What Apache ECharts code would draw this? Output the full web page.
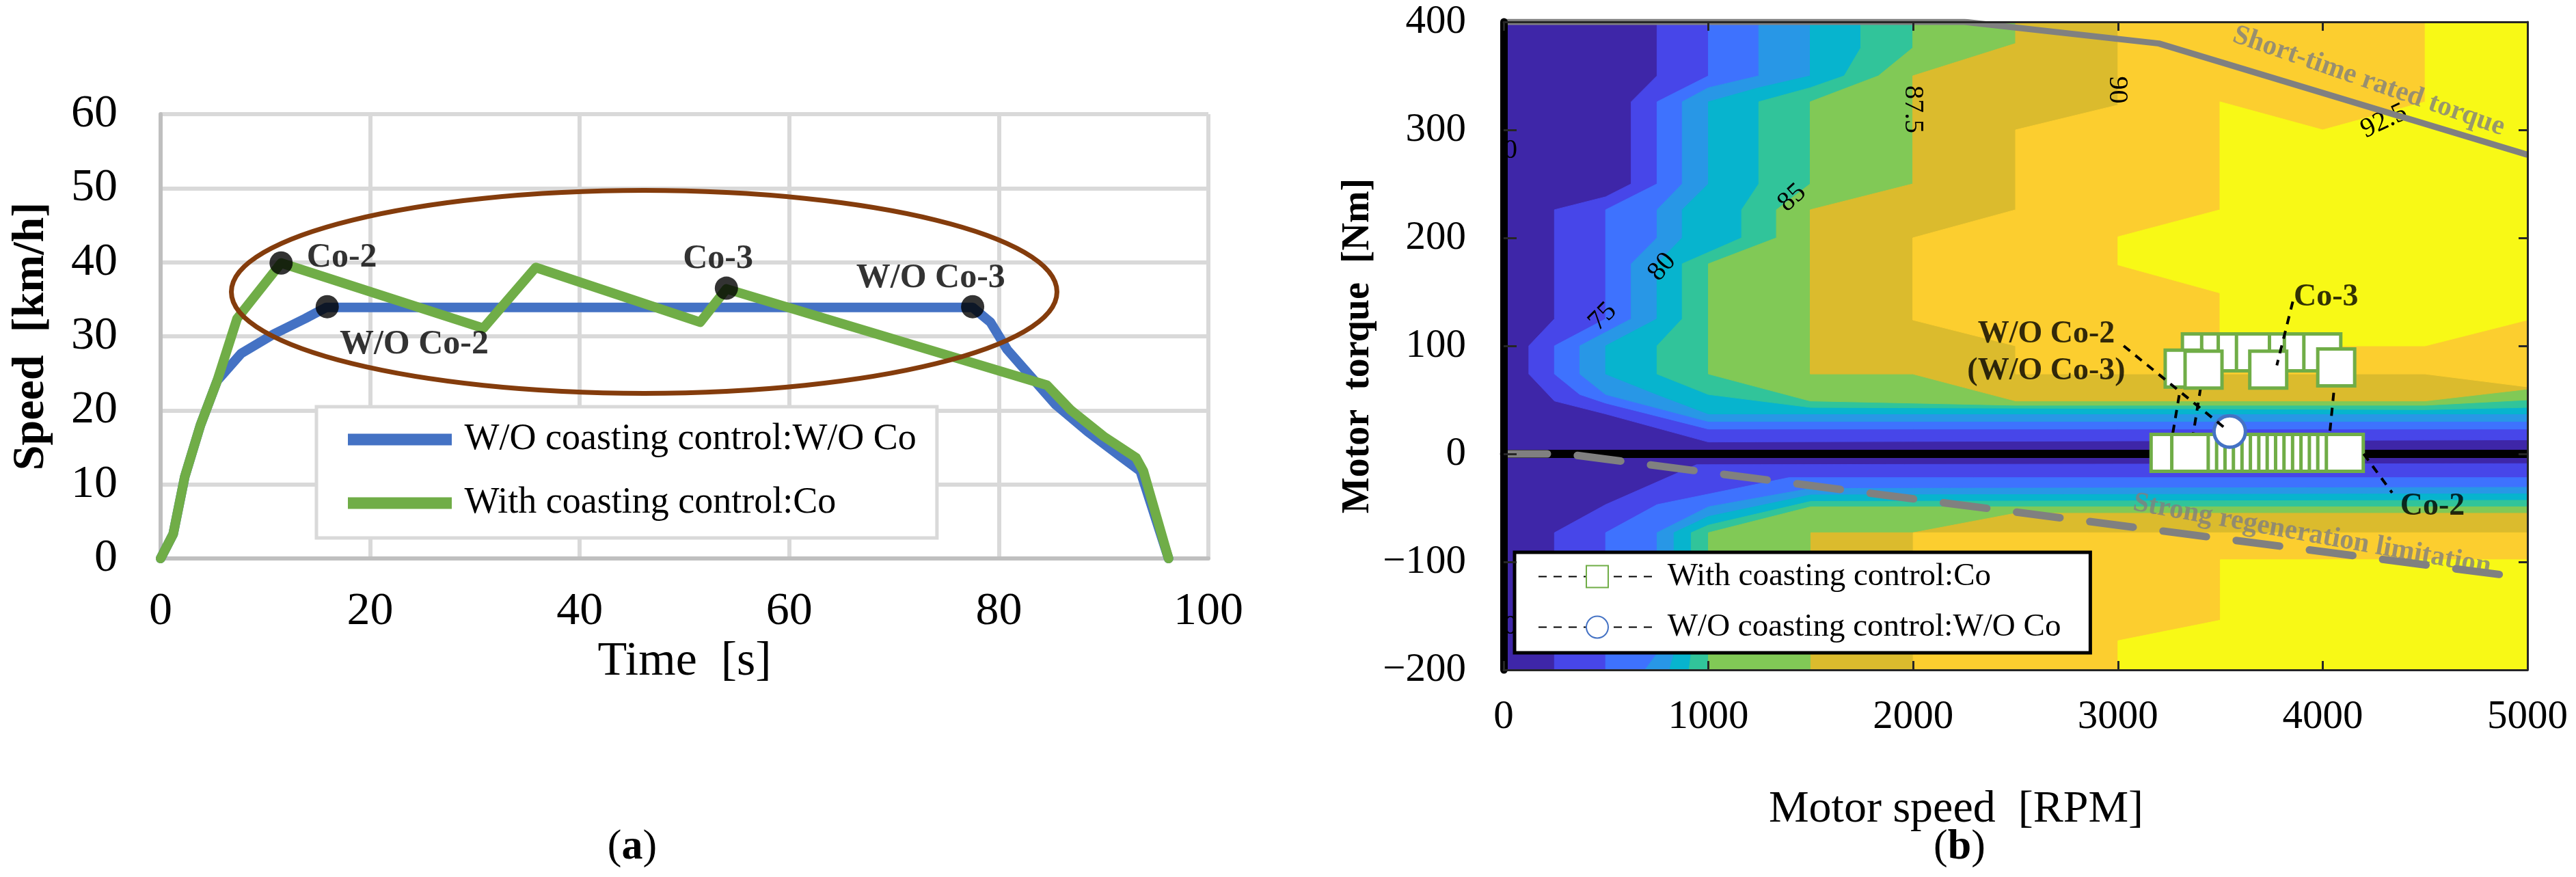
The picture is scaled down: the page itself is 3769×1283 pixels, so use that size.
<!DOCTYPE html>
<html>
<head>
<meta charset="utf-8">
<script src="https://cdn.jsdelivr.net/npm/echarts@6/dist/echarts.min.js"></script>
<style>html,body{margin:0;padding:0;background:#fff}#c{width:3769px;height:1283px}</style>
</head>
<body>
<div id="c"></div>
<script>
// ================= (a) Speed profile =================
const woCoTime  = [0, 1.2, 2.3, 3.8, 5.4, 7.7, 10.8, 13.8, 15.8, 77.5, 79.2, 80.8, 83.1, 85.4, 88.5, 91.5, 93.5, 96.2];
const woCoSpeed = [0, 3.3, 11, 18, 24, 27.7, 30.3, 32.4, 33.9, 33.9, 31.9, 28.2, 24.5, 20.8, 17.1, 13.9, 11.8, 0];
const coTime    = [0, 1.2, 2.3, 3.8, 5.4, 7.3, 11.5, 30.8, 35.8, 51.5, 54.0, 84.6, 86.9, 90.0, 93.1, 93.8, 96.2];
const coSpeed   = [0, 3.3, 11, 18, 24, 32.4, 39.9, 31.1, 39.3, 31.9, 36.4, 23.4, 20.0, 16.5, 13.6, 11.8, 0];
const pointNames      = ['Co-2', 'W/O Co-2', 'Co-3', 'W/O Co-3'];
const pointTime       = [11.5, 15.9, 54.0, 77.5];
const pointSpeed      = [39.9, 34.0, 36.5, 34.0];
const pointLabelTime  = [17.3, 24.2, 53.2, 73.5];
const pointLabelSpeed = [40.6, 28.9, 40.4, 37.8];
// highlight ellipse: centre time, centre speed, half-width (s), half-height (km/h)
const ellipseSpec = [46.15, 36.0, 39.4, 13.7];

// ================= (b) Efficiency map =================
const rpmRange = [0, 5000];
const nmRange  = [-200, 400];
const effLevels  = [72.5, 75, 77.5, 80, 82.5, 85, 87.5, 90, 92.5];
const bandColors = ['#3E26A8', '#4746E9', '#3E72FE', '#2897E6', '#07B4CE', '#31C49A', '#81C956', '#DBBB2D', '#FCCE2F', '#F8F916'];
// contour lines [rpm, Nm], positive torque half
const c725Pos = [[749,400],[749,350],[623,326],[623,250],[498,238],[248,226],[248,125],[123,100],[123,74],[248,49],[498,37],[1000,11],[5000,13]];
const c750Pos = [[1000,400],[1000,350],[749,326],[749,250],[498,226],[498,125],[248,100],[248,74],[372,55],[498,47],[1000,23],[5000,23]];
const c775Pos = [[1246,400],[1246,350],[1000,339],[872,326],[872,250],[749,226],[749,200],[623,176],[623,125],[372,100],[372,74],[498,55],[1000,30],[5000,30]];
const c800Pos = [[1497,400],[1497,350],[1246,339],[1000,326],[1000,250],[872,226],[872,200],[749,176],[749,125],[498,100],[498,74],[749,55],[1000,37],[5000,37]];
const c825Pos = [[1744,400],[1744,376],[1663,350],[1497,339],[1246,326],[1246,250],[1162,226],[1162,200],[872,176],[872,125],[749,100],[749,74],[1000,55],[1500,43],[4500,41],[5000,43]];
const c850Pos = [[1998,400],[1998,376],[1830,350],[1497,326],[1497,250],[1332,226],[1332,200],[1000,176],[1000,74],[1497,49],[2500,45],[4500,45],[5000,50]];
const c875Pos = [[2500,400],[2500,380],[1998,350],[1998,250],[1497,226],[1497,74],[1998,74],[2500,49],[4500,49],[5000,60]];
const c900Pos = [[3000,400],[3000,323],[2500,300],[2500,226],[1998,200],[1998,124],[2500,100],[2500,74],[4500,74],[5000,62]];
const c925Pos = [[4500,400],[4500,326],[4000,300],[3498,326],[3498,226],[3000,201],[3000,175],[3498,149],[3498,100],[4500,100],[5000,124]];
// negative torque half
const c725Neg = [[248,-200],[248,-73],[498,-47],[942,-10],[5000,-9]];
const c750Neg = [[498,-200],[498,-73],[749,-47],[1393,-22],[5000,-22]];
const c775Neg = [[690,-200],[749,-185],[749,-73],[1000,-49],[1500,-32],[5000,-31]];
const c800Neg = [[810,-200],[832,-185],[832,-73],[1000,-58],[1500,-38],[5000,-37]];
const c825Neg = [[905,-200],[916,-185],[916,-73],[1000,-66],[1500,-44],[5000,-43]];
const c850Neg = [[1000,-200],[1000,-73],[1500,-49],[5000,-49]];
const c875Neg = [[1500,-200],[1500,-73],[2000,-73],[2500,-55],[5000,-55]];
const c900Neg = [[2000,-200],[2000,-73],[5000,-73]];
const c925Neg = [[3000,-200],[3000,-173],[3500,-154],[3500,-98],[5000,-98]];

const contourLabelText   = ['70', '70', '75', '80', '85', '87.5', '90', '92.5'];
const contourLabelRpm    = [0, 0, 484, 774, 1409, 1996, 2997, 4300];
const contourLabelNm     = [281, -160, 127, 173, 237, 319, 337, 308];
const contourLabelAngle  = [0, 0, 45, 50, 42, -90, -90, 25];

const torqueLimitRpm = [0, 2250, 3200, 5000];
const torqueLimitNm  = [400, 400, 380, 277];
const regenLimitRpm  = [0, 300, 5000];
const regenLimitNm   = [0, 0, -115];
const zeroLineRpm    = [0, 5000];
const zeroLineNm     = [0, 0];
const limitLabelText  = ['Short-time rated torque', 'Strong regeneration limitation'];
const limitLabelRpm   = [4225, 3948];
const limitLabelNm    = [345, -75];
const limitLabelAngle = [-19.2, -10.2];

// operating points, in path order
const coRpm = [4108, 4066, 3252, 3321, 3405, 3499, 3418, 3353, 3531, 3572, 3613, 3654, 3696, 3737, 3778, 3819, 3860, 3901, 3943, 3984, 4025, 4066, 3998, 3903, 3830, 3734, 3669, 3580];
const coNm  = [1, 1, 1, 79, 94, 94, 78, 1, 1, 1, 1, 1, 1, 1, 1, 1, 1, 1, 1, 1, 1, 80, 94, 94, 94, 78, 94, 94];
const woCoRpm = [3546];
const woCoNm  = [20.7];

const annText = ['W/O Co-2', '(W/O Co-3)', 'Co-3', 'Co-2'];
const annRpm  = [2650, 2650, 4016, 4536];
const annNm   = [110.8, 76.6, 145, -49];
const leaderWoRpm  = [3028, 3538];
const leaderWoNm   = [100, 21.5];
const leaderCo3Rpm = [3854, 3776];
const leaderCo3Nm  = [141, 82];
const leaderCo2Rpm = [4200, 4339];
const leaderCo2Nm  = [0, -36];

// ================= build =================
const FONT = "'Liberation Serif', 'Times New Roman', serif";
const zip = (a, b) => a.map((v, i) => [v, b[i]]);
const nameWoA = 'W/O coasting control:W/O Co';
const nameCoA = 'With coasting control:Co';
const SUF = '\u0020(b)';
const nameWoB = nameWoA + SUF;
const nameCoB = nameCoA + SUF;

const posContours = [c725Pos, c750Pos, c775Pos, c800Pos, c825Pos, c850Pos, c875Pos, c900Pos, c925Pos];
const negContours = [c725Neg, c750Neg, c775Neg, c800Neg, c825Neg, c850Neg, c875Neg, c900Neg, c925Neg];
const polys = [{
  pts: [[rpmRange[0], nmRange[0]], [rpmRange[1], nmRange[0]], [rpmRange[1], nmRange[1]], [rpmRange[0], nmRange[1]]],
  color: bandColors[0]
}];
posContours.forEach((c, i) => polys.push({pts: c.concat([[rpmRange[1], nmRange[1]]]), color: bandColors[i + 1]}));
negContours.forEach((c, i) => polys.push({pts: c.concat([[rpmRange[1], nmRange[0]]]), color: bandColors[i + 1]}));

// draw order for the square markers: upper row, then lower row, then bottom row (each left to right)
const coIdx = coRpm.map((_, i) => i);
const band = i => coNm[i] > 88 ? 0 : (coNm[i] > 40 ? 1 : 2);
coIdx.sort((a, b) => band(a) - band(b) || coRpm[a] - coRpm[b]);
const coDrawOrder = coIdx.filter((v, k) => !(k > 0 && coRpm[coIdx[k-1]] === coRpm[v] && coNm[coIdx[k-1]] === coNm[v]));

const leaderStyle = {color: '#000', width: 4, type: [12, 10]};
const invisible = {color: 'rgba(0,0,0,0)'};

const chart = echarts.init(document.getElementById('c'), null, {renderer: 'canvas', width: 3769, height: 1283});
const option = {
  backgroundColor: '#ffffff',
  animation: false,
  textStyle: {fontFamily: FONT},
  grid: [
    {left: 235, top: 167, width: 1533, height: 650},
    {left: 2200, top: 32, width: 1498, height: 948}
  ],
  xAxis: [
    {gridIndex: 0, type: 'value', min: 0, max: 100, interval: 20,
     axisLine: {show: true, onZero: false, lineStyle: {color: '#bfbfbf', width: 6}},
     axisTick: {show: false},
     splitLine: {show: true, lineStyle: {color: '#d9d9d9', width: 6}},
     axisLabel: {fontSize: 68, color: '#000', margin: 44, fontFamily: FONT},
     name: 'Time  [s]', nameLocation: 'middle', nameGap: 108,
     nameTextStyle: {fontSize: 70, color: '#000', fontFamily: FONT}},
    {gridIndex: 1, type: 'value', min: rpmRange[0], max: rpmRange[1], interval: 1000, z: 20,
     axisLine: {show: true, onZero: false, lineStyle: {color: '#262626', width: 3}},
     axisTick: {show: true, inside: true, length: 13, lineStyle: {color: '#262626', width: 3}},
     splitLine: {show: false},
     axisLabel: {fontSize: 59, color: '#000', margin: 40, fontFamily: FONT, formatter: v => String(v)},
     name: 'Motor speed  [RPM]', nameLocation: 'middle', nameGap: 172,
     nameTextStyle: {fontSize: 66, color: '#000', fontFamily: FONT, padding: [0, 174, 0, 0]}},
    {gridIndex: 1, type: 'value', position: 'top', min: rpmRange[0], max: rpmRange[1], interval: 1000, z: 20,
     axisLine: {show: true, onZero: false, lineStyle: {color: '#262626', width: 3}},
     axisTick: {show: true, inside: true, length: 13, lineStyle: {color: '#262626', width: 3}},
     splitLine: {show: false}, axisLabel: {show: false}}
  ],
  yAxis: [
    {gridIndex: 0, type: 'value', min: 0, max: 60, interval: 10,
     axisLine: {show: true, onZero: false, lineStyle: {color: '#bfbfbf', width: 6}},
     axisTick: {show: false},
     splitLine: {show: true, lineStyle: {color: '#d9d9d9', width: 6}},
     axisLabel: {fontSize: 68, color: '#000', margin: 63, fontFamily: FONT},
     name: 'Speed  [km/h]', nameLocation: 'middle', nameGap: 156, nameRotate: 90,
     nameTextStyle: {fontSize: 66, color: '#000', fontWeight: 'bold', fontFamily: FONT}},
    {gridIndex: 1, type: 'value', min: nmRange[0], max: nmRange[1], interval: 100, z: 20,
     axisLine: {show: true, onZero: false, lineStyle: {color: '#000', width: 11}},
     axisTick: {show: true, inside: true, length: 19, lineStyle: {color: '#262626', width: 3}},
     splitLine: {show: false},
     axisLabel: {fontSize: 59, color: '#000', margin: 55, fontFamily: FONT,
                 formatter: v => String(v).replace('-', '\u2212')},
     name: 'Motor  torque  [Nm]', nameLocation: 'middle', nameGap: 184, nameRotate: 90,
     nameTextStyle: {fontSize: 56, color: '#000', fontWeight: 'bold', fontFamily: FONT}},
    {gridIndex: 1, type: 'value', position: 'right', min: nmRange[0], max: nmRange[1], interval: 100, z: 20,
     axisLine: {show: true, onZero: false, lineStyle: {color: '#262626', width: 3}},
     axisTick: {show: true, inside: true, length: 13, lineStyle: {color: '#262626', width: 3}},
     splitLine: {show: false}, axisLabel: {show: false}}
  ],
  legend: [
    {left: 463, top: 595, orient: 'vertical',
     data: [{name: nameWoA, icon: 'rect'}, {name: nameCoA, icon: 'rect'}],
     itemWidth: 152, itemHeight: 17, itemGap: 39, padding: [21, 30, 24, 46],
     backgroundColor: '#fff', borderColor: '#d9d9d9', borderWidth: 5,
     formatter: n => ' ' + n,
     textStyle: {fontSize: 54, lineHeight: 54, color: '#000', fontFamily: FONT}},
    {left: 2216, top: 808, orient: 'vertical',
     data: [nameCoB, nameWoB],
     itemWidth: 172, itemHeight: 40, itemGap: 27, padding: [12, 43, 14, 34],
     backgroundColor: '#fff', borderColor: '#000', borderWidth: 5,
     formatter: n => ' ' + n.replace(SUF, ''),
     textStyle: {fontSize: 47, lineHeight: 47, color: '#000', fontFamily: FONT}}
  ],
  series: [
    // ---------- (a) ----------
    {type: 'line', name: nameWoA, xAxisIndex: 0, yAxisIndex: 0, data: zip(woCoTime, woCoSpeed),
     symbol: 'none', color: '#4472C4', z: 3,
     lineStyle: {color: '#4472C4', width: 14, cap: 'round', join: 'round'}},
    {type: 'line', name: nameCoA, xAxisIndex: 0, yAxisIndex: 0, data: zip(coTime, coSpeed),
     symbol: 'none', color: '#70AD47', z: 4,
     lineStyle: {color: '#70AD47', width: 14, cap: 'round', join: 'round'}},
    {type: 'custom', name: 'highlight', xAxisIndex: 0, yAxisIndex: 0, z: 5, silent: true,
     data: [ellipseSpec],
     renderItem: (params, api) => {
       const c = api.coord([api.value(0), api.value(1)]);
       const s = api.size([api.value(2), api.value(3)]);
       return {type: 'ellipse', shape: {cx: c[0], cy: c[1], rx: s[0], ry: s[1]},
               style: {fill: 'none', stroke: '#843C0C', lineWidth: 7}};
     }},
    {type: 'scatter', name: 'events', xAxisIndex: 0, yAxisIndex: 0, z: 6,
     data: zip(pointTime, pointSpeed), symbol: 'circle', symbolSize: 34, itemStyle: {color: '#000'}},
    {type: 'scatter', name: 'event labels', xAxisIndex: 0, yAxisIndex: 0, z: 7, symbolSize: 1,
     itemStyle: invisible,
     data: pointNames.map((n, i) => ({name: n, value: [pointLabelTime[i], pointLabelSpeed[i]]})),
     label: {show: true, position: 'inside', formatter: '{b}', fontSize: 50, fontWeight: 'bold',
             color: '#000', fontFamily: FONT}},

    // ---------- (b) ----------
    {type: 'custom', name: 'efficiency', xAxisIndex: 1, yAxisIndex: 1, z: 1, silent: true, clip: true,
     data: polys.map(p => p.pts[0]),
     renderItem: (params, api) => {
       const p = polys[params.dataIndex];
       return {type: 'polygon', shape: {points: p.pts.map(q => api.coord(q))},
               style: {fill: p.color, stroke: p.color, lineWidth: 1}};
     }},
    {type: 'custom', name: 'contour labels', xAxisIndex: 1, yAxisIndex: 1, z: 2, silent: true, clip: true,
     data: zip(contourLabelRpm, contourLabelNm),
     renderItem: (params, api) => {
       const i = params.dataIndex;
       const pt = api.coord([contourLabelRpm[i], contourLabelNm[i]]);
       return {type: 'text', x: pt[0], y: pt[1], rotation: contourLabelAngle[i] * Math.PI / 180,
               style: {text: contourLabelText[i], fontSize: 40, fontFamily: FONT, fill: '#000',
                       align: 'center', verticalAlign: 'middle'}};
     }},
    {type: 'line', name: 'zero', xAxisIndex: 1, yAxisIndex: 1, z: 3, silent: true,
     data: zip(zeroLineRpm, zeroLineNm), symbol: 'none', lineStyle: {color: '#000', width: 12}},
    {type: 'line', name: 'torque limit', xAxisIndex: 1, yAxisIndex: 1, z: 4, silent: true,
     data: zip(torqueLimitRpm, torqueLimitNm), symbol: 'none', lineStyle: {color: '#808080', width: 9}},
    {type: 'line', name: 'regen limit', xAxisIndex: 1, yAxisIndex: 1, z: 4, silent: true,
     data: zip(regenLimitRpm, regenLimitNm), symbol: 'none',
     lineStyle: {color: '#808080', width: 11, type: [64, 44], cap: 'round'}},
    {type: 'scatter', name: 'limit labels', xAxisIndex: 1, yAxisIndex: 1, z: 5, symbolSize: 1,
     itemStyle: invisible,
     data: limitLabelText.map((n, i) => ({name: n, value: [limitLabelRpm[i], limitLabelNm[i]],
                                           label: {rotate: limitLabelAngle[i]}})),
     label: {show: true, position: 'inside', formatter: '{b}', fontSize: 41, fontWeight: 'bold',
             color: '#808080', fontFamily: FONT}},
    {type: 'line', name: nameCoB, xAxisIndex: 1, yAxisIndex: 1, z: 6,
     data: zip(coRpm, coNm), symbol: 'rect', showSymbol: false,
     itemStyle: {color: '#ffffff', borderColor: '#70AD47', borderWidth: 5},
     lineStyle: {color: '#000', width: 4, type: [12, 10]}},
    {type: 'scatter', name: 'Co points', xAxisIndex: 1, yAxisIndex: 1, z: 7,
     data: coDrawOrder.map(i => [coRpm[i], coNm[i]]), symbol: 'rect', symbolSize: 54,
     itemStyle: {color: '#ffffff', borderColor: '#70AD47', borderWidth: 5, opacity: 1}},
    {type: 'line', name: nameWoB, xAxisIndex: 1, yAxisIndex: 1, z: 8,
     data: zip(woCoRpm, woCoNm), symbol: 'circle', symbolSize: 46, showSymbol: true,
     itemStyle: {color: '#ffffff', borderColor: '#4472C4', borderWidth: 5},
     lineStyle: {color: '#000', width: 4, type: [12, 10]}},
    {type: 'line', name: 'leader W/O', xAxisIndex: 1, yAxisIndex: 1, z: 9, silent: true,
     data: zip(leaderWoRpm, leaderWoNm), symbol: 'none', lineStyle: leaderStyle},
    {type: 'line', name: 'leader Co-3', xAxisIndex: 1, yAxisIndex: 1, z: 9, silent: true,
     data: zip(leaderCo3Rpm, leaderCo3Nm), symbol: 'none', lineStyle: leaderStyle},
    {type: 'line', name: 'leader Co-2', xAxisIndex: 1, yAxisIndex: 1, z: 9, silent: true,
     data: zip(leaderCo2Rpm, leaderCo2Nm), symbol: 'none', lineStyle: leaderStyle},
    {type: 'scatter', name: 'annotations', xAxisIndex: 1, yAxisIndex: 1, z: 10, symbolSize: 1,
     itemStyle: invisible,
     data: annText.map((n, i) => ({name: n, value: [annRpm[i], annNm[i]]})),
     label: {show: true, position: 'inside', formatter: '{b}', fontSize: 46, fontWeight: 'bold',
             color: '#000', fontFamily: FONT}}
  ],
  graphic: [
    {type: 'text', x: 925, y: 1240, style: {text: '({b|a})', fontSize: 62, fontFamily: FONT, fill: '#000',
      align: 'center', verticalAlign: 'middle',
      rich: {b: {fontSize: 62, fontWeight: 'bold', fontFamily: FONT, fill: '#000'}}}},
    {type: 'text', x: 2867, y: 1240, style: {text: '({b|b})', fontSize: 62, fontFamily: FONT, fill: '#000',
      align: 'center', verticalAlign: 'middle',
      rich: {b: {fontSize: 62, fontWeight: 'bold', fontFamily: FONT, fill: '#000'}}}}
  ]
};
chart.setOption(option);
</script>
</body>
</html>
